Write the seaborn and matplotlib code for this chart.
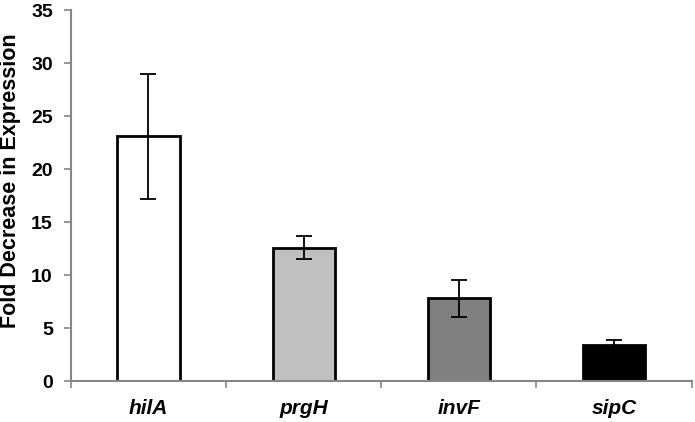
import numpy as np
import pandas as pd
import seaborn as sns
import matplotlib.pyplot as plt

genes = ['hilA', 'prgH', 'invF', 'sipC']
fold_decrease = [23.1, 12.6, 7.8, 3.4]
std_err = [5.9, 1.1, 1.75, 0.45]
bar_colors = ['#ffffff', '#c0c0c0', '#808080', '#000000']

sns.set_style('white')
plt.rcParams['font.family'] = ['Liberation Sans', 'DejaVu Sans']
plt.rcParams['text.color'] = 'black'
plt.rcParams['axes.labelcolor'] = 'black'
plt.rcParams['xtick.labelcolor'] = 'black'
plt.rcParams['ytick.labelcolor'] = 'black'

df = pd.DataFrame({'gene': genes, 'fold': fold_decrease})

fig = plt.figure(figsize=(6.95, 4.22), dpi=100)
ax = fig.add_axes([0.102, 0.097, 0.893, 0.879])

sns.barplot(data=df, x='gene', y='fold', hue='gene', palette=bar_colors,
            edgecolor='black', linewidth=2, width=0.4, legend=False, ax=ax)
ax.errorbar(np.arange(len(genes)), fold_decrease, yerr=std_err, fmt='none',
            ecolor='black', elinewidth=1.3, capsize=6, capthick=1.3)

ax.set_ylim(0, 35)
ax.set_xlim(-0.5, len(genes) - 0.5)
ax.set_yticks(range(0, 36, 5))
ax.set_xlabel('')
ax.set_ylabel('Fold Decrease in Expression', fontsize=15.5, fontweight='bold')
ax.yaxis.set_label_coords(-0.080, 0.54)

grey = '#868686'
for s in ['top', 'right']:
    ax.spines[s].set_visible(False)
for s in ['left', 'bottom']:
    ax.spines[s].set_color(grey)
    ax.spines[s].set_linewidth(1.5)

ax.tick_params(axis='y', which='major', direction='out', length=5, width=1.2,
               color=grey, labelsize=14, left=True, pad=8)
for lbl in ax.get_yticklabels():
    lbl.set_fontweight('bold')

# category labels centred, tick marks at the category boundaries
ax.set_xticks(np.arange(len(genes)))
ax.set_xticklabels(genes, fontsize=15, fontweight='bold', fontstyle='italic')
ax.tick_params(axis='x', which='major', length=0, pad=13)
ax.set_xticks(np.arange(len(genes) + 1) - 0.5, minor=True)
ax.tick_params(axis='x', which='minor', direction='out', length=5, width=1.2,
               color=grey, bottom=True)

fig.savefig('out.png', dpi=100)
